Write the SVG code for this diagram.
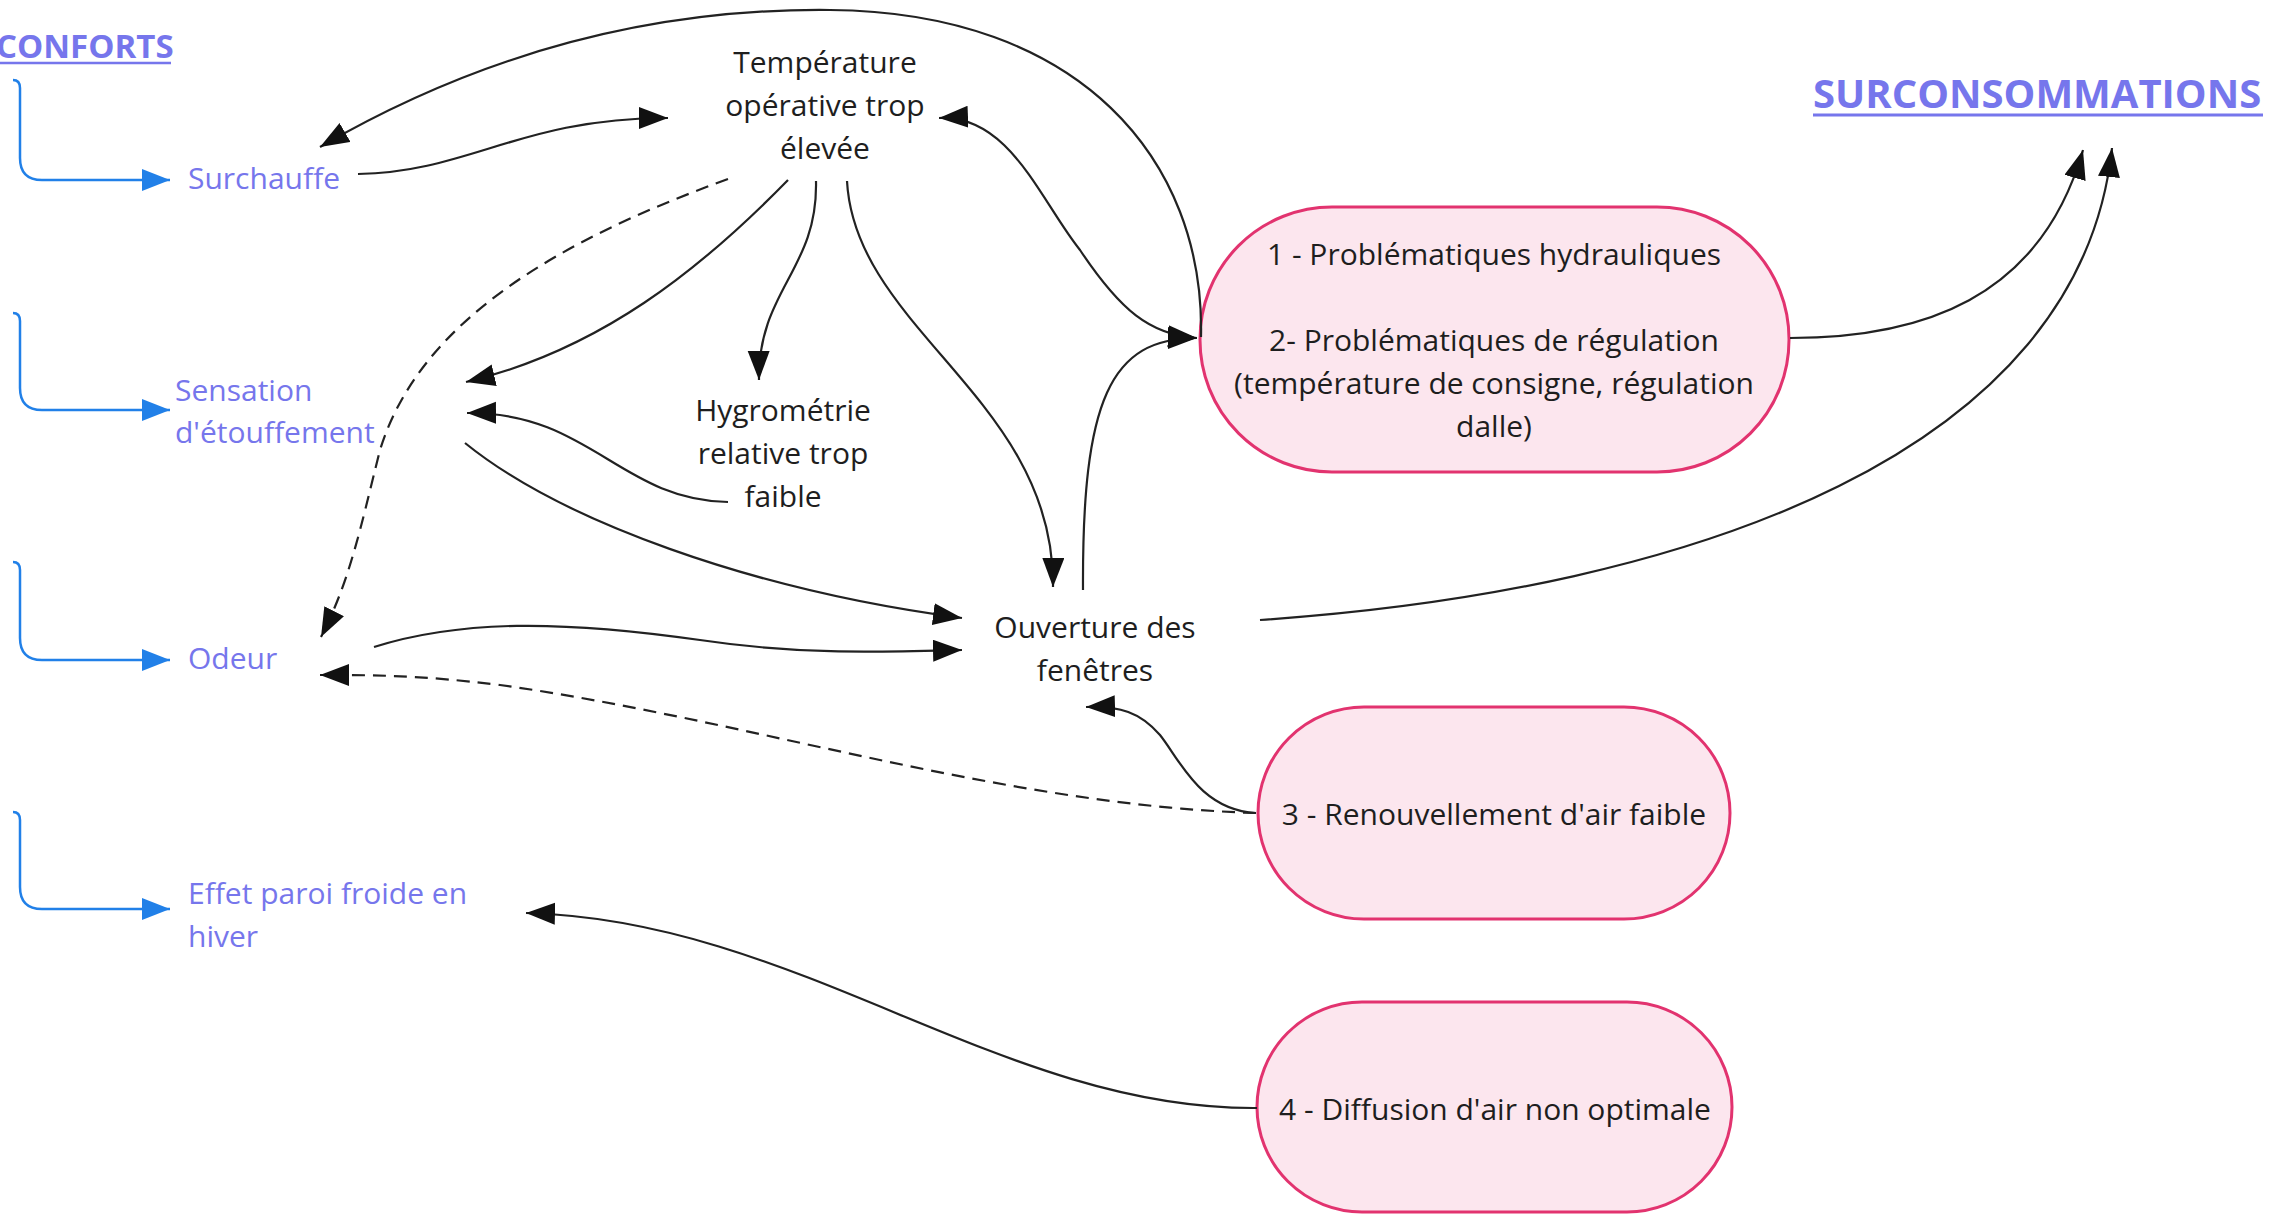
<svg xmlns="http://www.w3.org/2000/svg" width="2270" height="1215" viewBox="0 0 2270 1215">
<defs>
<style>
.t{font-family:"Open Sans","Noto Sans","Liberation Sans",sans-serif;font-size:30px;fill:#1e1e1e}
.b{font-family:"Open Sans","Noto Sans","Liberation Sans",sans-serif;font-size:30px;fill:#7676ec}
.h{font-family:"Open Sans","Noto Sans","Liberation Sans",sans-serif;font-weight:bold;fill:#7676ec}
.c{text-anchor:middle}
.pill{fill:#fce6ee;stroke:#e2336f;stroke-width:3}
.e{fill:none;stroke:#222;stroke-width:2.2}
.d{fill:none;stroke:#222;stroke-width:2.2;stroke-dasharray:13 8}
.bl{fill:none;stroke:#2180e8;stroke-width:2.5}
</style>
<marker id="ah" markerUnits="userSpaceOnUse" markerWidth="30" markerHeight="24" refX="29" refY="11" orient="auto-start-reverse"><path d="M0,0 L29,11 L0,22 z" fill="#111"/></marker>
<marker id="bh" markerUnits="userSpaceOnUse" markerWidth="30" markerHeight="24" refX="28" refY="11" orient="auto"><path d="M0,0 L28,11 L0,22 z" fill="#2180e8"/></marker>
</defs>
<rect width="2270" height="1215" fill="#fff"/>

<g id="titre-conforts">
<text class="h" x="-4" y="58" font-size="33">CONFORTS</text>
<line x1="-4" y1="63" x2="171" y2="63" stroke="#7676ec" stroke-width="2.5"/>
</g>
<g id="titre-surconsommations">
<text class="h" x="1813" y="108" font-size="40">SURCONSOMMATIONS</text>
<line x1="1813" y1="115" x2="2263" y2="115" stroke="#7676ec" stroke-width="3"/>
</g>

<g id="brackets">
<path class="bl" d="M13,80 Q20,80 20,88 L20,158 Q20,180 42,180 L170,180" marker-end="url(#bh)"/>
<path class="bl" d="M13,313 Q20,313 20,321 L20,388 Q20,410 42,410 L170,410" marker-end="url(#bh)"/>
<path class="bl" d="M13,562 Q20,562 20,570 L20,638 Q20,660 42,660 L170,660" marker-end="url(#bh)"/>
<path class="bl" d="M13,812 Q20,812 20,820 L20,887 Q20,909 42,909 L170,909" marker-end="url(#bh)"/>
</g>

<g id="surchauffe"><text class="b" x="188" y="189">Surchauffe</text></g>
<g id="sensation"><text class="b" x="175" y="401">Sensation</text><text class="b" x="175" y="443">d'étouffement</text></g>
<g id="odeur"><text class="b" x="188" y="669">Odeur</text></g>
<g id="effet-paroi"><text class="b" x="188" y="904">Effet paroi froide en</text><text class="b" x="188" y="947">hiver</text></g>

<g id="temperature"><text class="t c" x="825" y="73">Température</text><text class="t c" x="825" y="116">opérative trop</text><text class="t c" x="825" y="159">élevée</text></g>
<g id="hygrometrie"><text class="t c" x="783" y="421">Hygrométrie</text><text class="t c" x="783" y="464">relative trop</text><text class="t c" x="783" y="507">faible</text></g>
<g id="ouverture"><text class="t c" x="1095" y="638">Ouverture des</text><text class="t c" x="1095" y="681">fenêtres</text></g>

<g id="probleme-1-2">
<rect class="pill" x="1200" y="207" width="589" height="265" rx="132"/>
<text class="t c" x="1494" y="265">1 - Problématiques hydrauliques</text>
<text class="t c" x="1494" y="351">2- Problématiques de régulation</text>
<text class="t c" x="1494" y="394">(température de consigne, régulation</text>
<text class="t c" x="1494" y="437">dalle)</text>
</g>
<g id="probleme-3">
<rect class="pill" x="1258" y="707" width="472" height="212" rx="106"/>
<text class="t c" x="1494" y="825">3 - Renouvellement d'air faible</text>
</g>
<g id="probleme-4">
<rect class="pill" x="1257" y="1002" width="475" height="210" rx="105"/>
<text class="t c" x="1495" y="1120">4 - Diffusion d'air non optimale</text>
</g>

<g id="connecteurs">
<path class="e" d="M1201,337 C1205,160 1080,12 830,10 C640,8 470,60 320,147" marker-end="url(#ah)"/>
<path class="e" d="M358,174 C470,172 520,118 668,118" marker-end="url(#ah)"/>
<path class="d" d="M728,179 C560,240 420,320 380,450 C360,530 350,580 321,637" marker-end="url(#ah)"/>
<path class="e" d="M788,180 C700,270 600,350 466,382" marker-end="url(#ah)"/>
<path class="e" d="M816,181 C818,270 758,290 759,380" marker-end="url(#ah)"/>
<path class="e" d="M847,181 C855,330 1055,400 1053,587" marker-end="url(#ah)"/>
<path class="e" d="M1083,590 C1082,400 1110,338 1197,338" marker-end="url(#ah)"/>
<path class="e" d="M939,118 C1010,115 1040,200 1080,250 C1120,310 1150,335 1197,338" marker-start="url(#ah)" marker-end="url(#ah)"/>
<path class="e" d="M728,502 C620,500 590,412 467,413" marker-end="url(#ah)"/>
<path class="e" d="M465,443 C560,520 750,590 962,618" marker-end="url(#ah)"/>
<path class="e" d="M374,647 C460,620 560,620 700,640 C800,655 880,652 962,650" marker-end="url(#ah)"/>
<path class="d" d="M1256,813 C1000,805 750,720 500,685 C420,675 370,675 320,675" marker-end="url(#ah)"/>
<path class="e" d="M1256,813 C1200,810 1180,760 1160,735 C1140,712 1120,706 1086,707" marker-end="url(#ah)"/>
<path class="e" d="M1790,338 C1920,338 2040,300 2083,150" marker-end="url(#ah)"/>
<path class="e" d="M1260,620 C1700,590 2080,450 2112,148" marker-end="url(#ah)"/>
<path class="e" d="M1257,1108 C1000,1110 800,920 526,913" marker-end="url(#ah)"/>
</g>
</svg>
